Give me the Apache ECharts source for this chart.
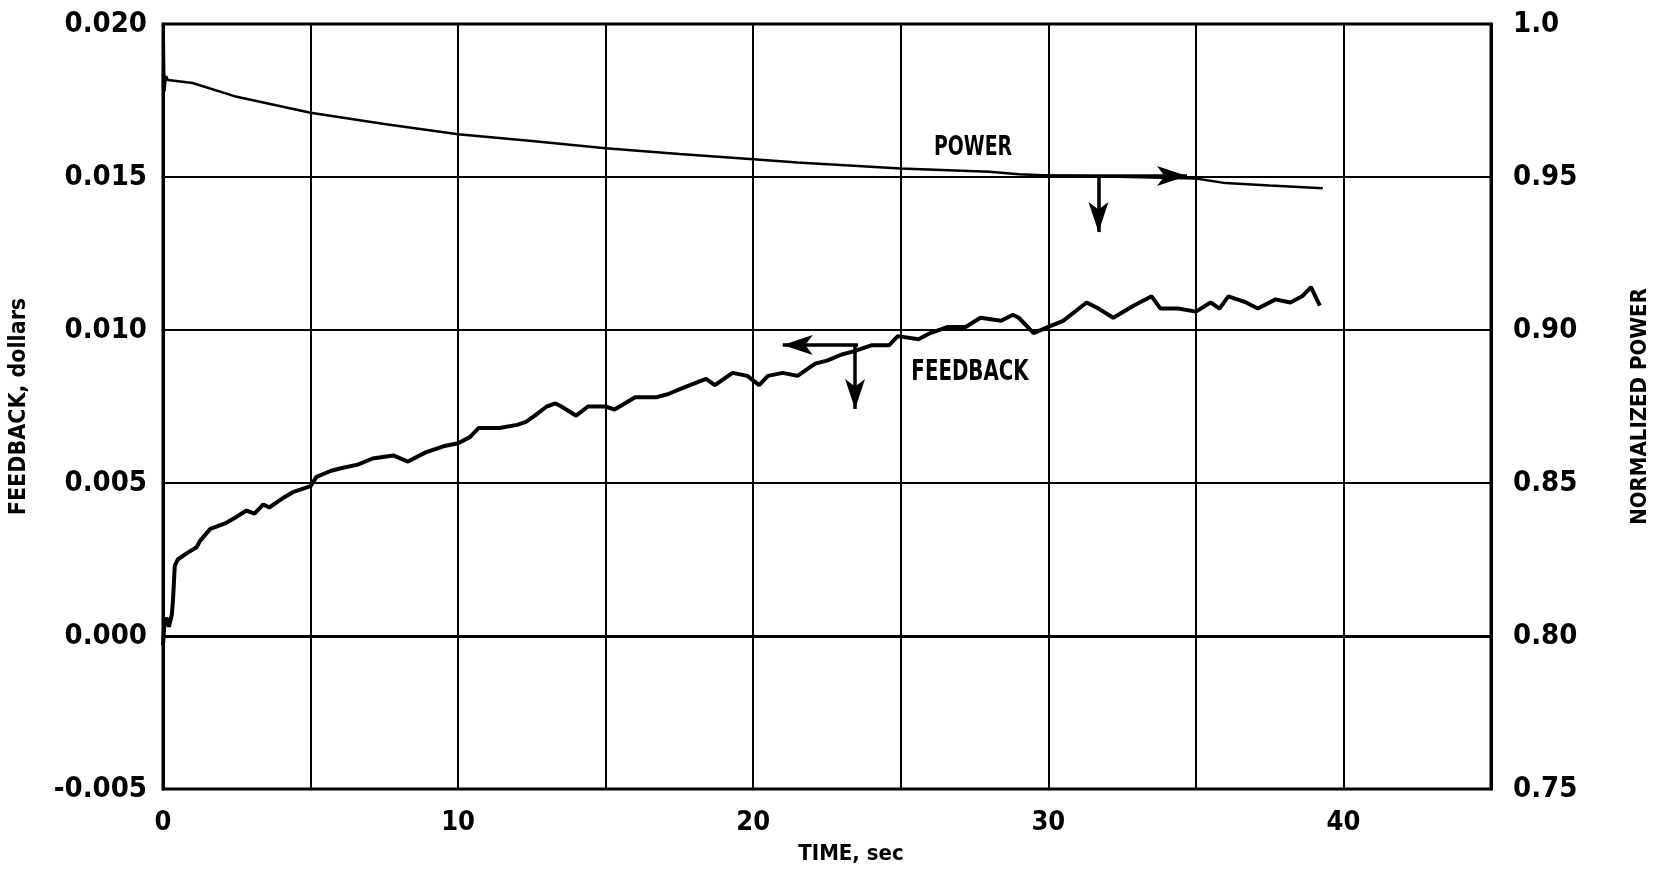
<!DOCTYPE html>
<html>
<head>
<meta charset="utf-8">
<script src="https://cdn.jsdelivr.net/npm/echarts@6/dist/echarts.min.js"></script>
<style>
  html, body { margin: 0; padding: 0; background: #fff; }
  #chart { width: 1659px; height: 871px; }
</style>
</head>
<body>
<div id="chart"></div>
<script>
// time axis ticks
const timeTicks = [0, 10, 20, 30, 40];

// normalized power (right axis)
const powerTime = [0, 0.02, 0.05, 0.1, 0.17, 1, 2.5, 5, 7.5, 10, 12.5, 15, 17.5, 20, 21.5, 25, 28, 29, 30, 32, 35, 36, 37.5, 39.3];
const powerValue = [0.979, 1.0, 0.978, 0.983, 0.9817, 0.9807, 0.9762, 0.971, 0.9673, 0.964, 0.9618, 0.9594, 0.9575, 0.9558, 0.9547, 0.9528, 0.9517, 0.9509, 0.9505, 0.9502, 0.9495, 0.948, 0.9472, 0.9463];

// feedback, dollars (left axis)
const feedbackTime = [0, 0.05, 0.12, 0.2, 0.3, 0.34, 0.4, 0.5, 0.8, 1.14, 1.25, 1.6, 2.15, 2.5, 2.83, 3.1, 3.4, 3.6, 4.05, 4.4,
  5.0, 5.2, 5.7, 6.1, 6.6, 7.1, 7.8, 8.3, 8.9, 9.5, 10.0, 10.4, 10.7, 11.4, 12.0, 12.3, 12.6, 13.0, 13.3, 13.5,
  14.0, 14.4, 15.0, 15.3, 16.0, 16.7, 17.1, 17.6, 18.4, 18.7, 19.3, 19.8, 20.2, 20.5, 21.0, 21.5, 22.1, 22.5, 23.0, 23.4,
  24.0, 24.6, 24.9, 25.6, 26.0, 26.6, 27.2, 27.7, 28.4, 28.8, 29.0, 29.5, 30.0, 30.5, 31.3, 31.7, 32.2, 32.9, 33.5, 33.8,
  34.4, 35.0, 35.5, 35.8, 36.1, 36.7, 37.1, 37.7, 38.2, 38.6, 38.9, 39.2];
const feedbackValue = [-0.0003, 0.0004, 0.0006, 0.0003, 0.0007, 0.0012, 0.0023, 0.0025, 0.0027, 0.0029, 0.0031, 0.0035, 0.0037, 0.0039, 0.0041, 0.0040, 0.0043, 0.0042, 0.0045, 0.0047,
  0.0049, 0.0052, 0.0054, 0.0055, 0.0056, 0.0058, 0.0059, 0.0057, 0.0060, 0.0062, 0.0063, 0.0065, 0.0068, 0.0068, 0.0069, 0.0070, 0.0072, 0.0075, 0.0076, 0.0075,
  0.0072, 0.0075, 0.0075, 0.0074, 0.0078, 0.0078, 0.0079, 0.0081, 0.0084, 0.0082, 0.0086, 0.0085, 0.0082, 0.0085, 0.0086, 0.0085, 0.0089, 0.0090, 0.0092, 0.0093,
  0.0095, 0.0095, 0.0098, 0.0097, 0.0099, 0.0101, 0.0101, 0.0104, 0.0103, 0.0105, 0.0104, 0.0099, 0.0101, 0.0103, 0.0109, 0.0107, 0.0104, 0.0108, 0.0111, 0.0107,
  0.0107, 0.0106, 0.0109, 0.0107, 0.0111, 0.0109, 0.0107, 0.0110, 0.0109, 0.0111, 0.0114, 0.0108];

// annotation arrows, in data units
const powerArrowH = [[29.5, 0.9503], [34.7, 0.9503]];
const powerArrowV = [[31.7, 0.9503], [31.7, 0.932]];
const feedbackArrowH = [[23.55, 0.00951], [21.0, 0.00951]];
const feedbackArrowV = [[23.45, 0.00951], [23.45, 0.00742]];

const font = 'DejaVu Sans Condensed';

const chart = echarts.init(document.getElementById('chart'));

const arrowLines = (a, b) => ({
  silent: true,
  symbol: ['none', 'arrow'],
  symbolSize: [15, 30],
  label: { show: false },
  lineStyle: { color: '#000', width: 3.5, type: 'solid' },
  emphasis: { disabled: true },
  animation: false,
  data: [
    [{ coord: a[0] }, { coord: a[1] }],
    [{ coord: b[0] }, { coord: b[1] }]
  ]
});

const option = {
  backgroundColor: '#fff',
  animation: false,
  grid: {
    left: 163, right: 165, top: 24, bottom: 82,
    show: true, borderColor: '#000', borderWidth: 3
  },
  xAxis: {
    type: 'value',
    min: 0, max: 45, interval: 5,
    name: 'TIME, sec',
    nameLocation: 'middle',
    nameGap: 54,
    nameTextStyle: { fontFamily: font, fontWeight: 'bold', fontSize: 22, color: '#000', padding: [0, 0, 0, 48] },
    axisLine: { show: true, lineStyle: { color: '#000', width: 3 } },
    axisTick: { show: false },
    axisLabel: {
      fontFamily: font, fontWeight: 'bold', fontSize: 27, color: '#000', margin: 20,
      formatter: v => timeTicks.includes(v) ? String(v) : ''
    },
    splitLine: { show: true, lineStyle: { color: '#000', width: 2 } }
  },
  yAxis: [
    {
      type: 'value',
      min: -0.005, max: 0.020, interval: 0.005,
      name: 'FEEDBACK, dollars',
      nameLocation: 'middle',
      nameRotate: 90,
      nameGap: 132,
      nameTextStyle: { fontFamily: font, fontWeight: 'bold', fontSize: 23, color: '#000' },
      axisLine: { show: true, lineStyle: { color: '#000', width: 3 } },
      axisTick: { show: false },
      axisLabel: {
        fontFamily: font, fontWeight: 'bold', fontSize: 29, color: '#000', margin: 16,
        formatter: v => Math.abs(v) < 1e-9 ? '0.000' : v.toFixed(3)
      },
      splitLine: { show: true, lineStyle: { color: '#000', width: 2 } }
    },
    {
      type: 'value',
      position: 'right',
      min: 0.75, max: 1.0, interval: 0.05,
      name: 'NORMALIZED POWER',
      nameLocation: 'middle',
      nameRotate: 90,
      nameGap: 138,
      nameTextStyle: { fontFamily: font, fontWeight: 'bold', fontSize: 22, color: '#000' },
      axisLine: { show: true, lineStyle: { color: '#000', width: 3 } },
      axisTick: { show: false },
      axisLabel: {
        fontFamily: font, fontWeight: 'bold', fontSize: 29, color: '#000', margin: 22,
        formatter: v => v > 0.999 ? '1.0' : v.toFixed(2)
      },
      splitLine: { show: false }
    }
  ],
  series: [
    {
      name: 'POWER',
      type: 'line',
      yAxisIndex: 1,
      data: powerTime.map((t, i) => [t, powerValue[i]]),
      showSymbol: false,
      lineStyle: { color: '#000', width: 2.5 },
      markLine: arrowLines(powerArrowH, powerArrowV)
    },
    {
      name: 'FEEDBACK',
      type: 'line',
      yAxisIndex: 0,
      data: feedbackTime.map((t, i) => [t, feedbackValue[i]]),
      showSymbol: false,
      lineStyle: { color: '#000', width: 4 },
      markLine: arrowLines(feedbackArrowH, feedbackArrowV)
    }
  ],
  graphic: [
    {
      type: 'text', x: 973, y: 148, scaleY: 1.25,
      style: { text: 'POWER', fontFamily: font, fontWeight: 'bold', fontSize: 21, fill: '#000', align: 'center', verticalAlign: 'middle' }
    },
    {
      type: 'text', x: 970, y: 373, scaleY: 1.25,
      style: { text: 'FEEDBACK', fontFamily: font, fontWeight: 'bold', fontSize: 22, fill: '#000', align: 'center', verticalAlign: 'middle' }
    }
  ]
};

chart.setOption(option);
</script>
</body>
</html>
